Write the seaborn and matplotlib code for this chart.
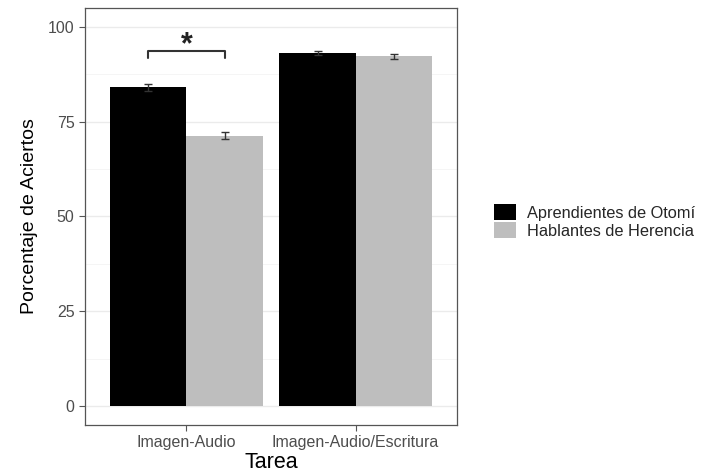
import matplotlib
matplotlib.use("Agg")
import matplotlib.pyplot as plt
import seaborn as sns
import pandas as pd
import numpy as np
from matplotlib.patches import Patch
from matplotlib.ticker import MultipleLocator
from matplotlib.container import BarContainer

tareas = ["Imagen-Audio", "Imagen-Audio/Escritura"]
grupos = ["Aprendientes de Otomí", "Hablantes de Herencia"]
aprendientes = [84.1, 93.2]
herencia = [71.3, 92.2]
err_aprendientes = [0.9, 0.5]
err_herencia = [1.0, 0.6]
colores = ["#000000", "#BEBEBE"]

df = pd.DataFrame({
    "Tarea": tareas * 2,
    "Grupo": [grupos[0]] * 2 + [grupos[1]] * 2,
    "Porcentaje": aprendientes + herencia,
    "err": err_aprendientes + err_herencia,
})

sns.set_theme(style="white")
plt.rcParams["font.family"] = ["Liberation Sans", "DejaVu Sans"]

fig = plt.figure(figsize=(7.16, 4.74), dpi=100)
ax = fig.add_axes([0.1187, 0.1034, 0.5196, 0.880])

ax.set_axisbelow(True)
ax.yaxis.set_major_locator(MultipleLocator(25))
ax.yaxis.set_minor_locator(MultipleLocator(12.5))
ax.grid(which="major", axis="both", color="#EBEBEB", linewidth=1.0)
ax.grid(which="minor", axis="y", color="#F4F4F4", linewidth=0.6)

sns.barplot(data=df, x="Tarea", y="Porcentaje", hue="Grupo", order=tareas,
            hue_order=grupos, palette=colores, width=0.9, errorbar=None,
            saturation=1, ax=ax, legend=False, linewidth=0)

bar_conts = [c for c in ax.containers if isinstance(c, BarContainer)]
centers = {}
for gi, cont in enumerate(bar_conts):
    for ti, bar in enumerate(cont):
        cx = bar.get_x() + bar.get_width() / 2
        centers[(gi, ti)] = cx
        sub = df[(df.Grupo == grupos[gi]) & (df.Tarea == tareas[ti])].iloc[0]
        ax.errorbar(cx, sub.Porcentaje, yerr=sub.err, color="#333333",
                    capsize=3, linewidth=1.0, capthick=1.0)

# significance bracket
x1, x2 = centers[(0, 0)], centers[(1, 0)]
yb, yt = 91.8, 93.6
ax.plot([x1, x1, x2, x2], [yb, yt, yt, yb], color="#333333", linewidth=1.5)
ax.text((x1 + x2) / 2, 95.2, "*", ha="center", va="center", fontsize=22,
        fontweight="bold", color="#222222")

ax.set_xlim(-0.6, 1.6)
ax.set_ylim(-5, 105)
for s in ax.spines.values():
    s.set_color("#555555")
    s.set_linewidth(0.9)
ax.tick_params(axis="both", which="major", length=4, width=0.8, color="#555555",
               labelcolor="#4D4D4D", bottom=True, left=True)
ax.tick_params(axis="x", labelsize=11.5)
ax.tick_params(axis="y", labelsize=11.5)
ax.tick_params(which="minor", length=0)
ax.set_yticks([0, 25, 50, 75, 100])
ax.set_xlabel("Tarea", fontsize=15.5, color="#000000", labelpad=1)
ax.set_ylabel("Porcentaje de Aciertos", fontsize=14, color="#000000", labelpad=7)

handles = [Patch(facecolor=c, edgecolor="none") for c in colores]
fig.legend(handles, grupos, loc="center left", bbox_to_anchor=(0.670, 0.533),
           frameon=False, fontsize=11.8, handlelength=1.3, handleheight=1.1,
           handletextpad=0.7, labelspacing=0.1)

fig.savefig("out.png", dpi=100)
